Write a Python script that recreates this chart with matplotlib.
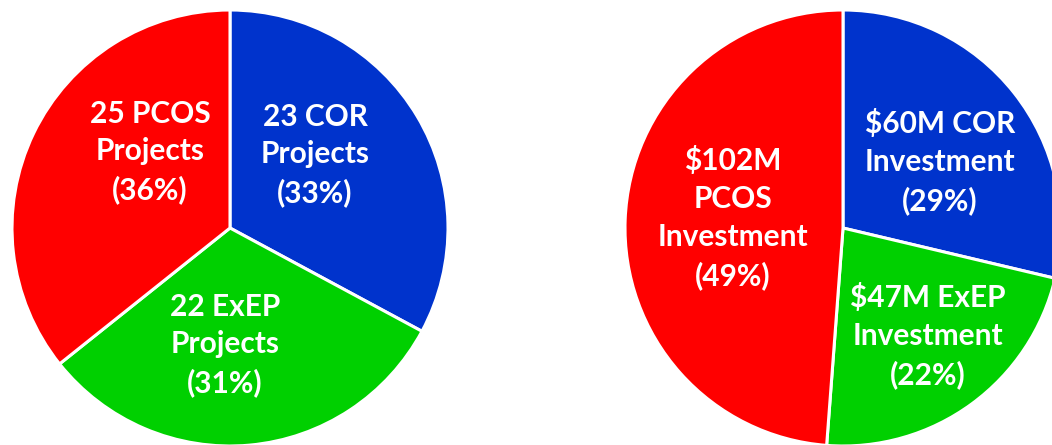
import matplotlib
matplotlib.use("Agg")
import matplotlib.pyplot as plt

# Data
categories = ["COR", "ExEP", "PCOS"]
project_counts = [23, 22, 25]
investments_musd = [60, 47, 102]
project_pcts = [33, 31, 36]
invest_pcts = [29, 22, 49]
colors = ["#0033CC", "#00D000", "#FF0000"]

W, H = 1052, 445
fig = plt.figure(figsize=(W / 100, H / 100), dpi=100)
ax = fig.add_axes([0, 0, 1, 1])

R = 218
left_c = (230, H - 228)
right_c = (843, H - 228)

wedge_kw = dict(edgecolor="white", linewidth=2.2)
ax.pie(project_counts, colors=colors, startangle=90, counterclock=False,
       radius=R, center=left_c, wedgeprops=wedge_kw)
ax.pie(investments_musd, colors=colors, startangle=90, counterclock=False,
       radius=R, center=right_c, wedgeprops=wedge_kw)

ax.set_xlim(0, W)
ax.set_ylim(0, H)
ax.set_aspect("equal")
ax.axis("off")

font = dict(color="white", fontsize=21.5, fontweight="bold", family="Lato",
            ha="center", va="center", linespacing=1.42)

left_labels = [
    f"{project_counts[0]} {categories[0]}\nProjects\n({project_pcts[0]}%)",
    f"{project_counts[1]} {categories[1]}\nProjects\n({project_pcts[1]}%)",
    f"{project_counts[2]} {categories[2]}\nProjects\n({project_pcts[2]}%)",
]
left_pos = [(315, 155), (225, 345), (150, 152)]
for t, (x, y) in zip(left_labels, left_pos):
    ax.text(x, H - y, t, **font)

right_labels = [
    f"${investments_musd[0]}M {categories[0]}\nInvestment\n({invest_pcts[0]}%)",
    f"${investments_musd[1]}M {categories[1]}\nInvestment\n({invest_pcts[1]}%)",
    f"${investments_musd[2]}M\n{categories[2]}\nInvestment\n({invest_pcts[2]}%)",
]
right_pos = [(940, 162), (928, 336), (733, 218)]
for t, (x, y) in zip(right_labels, right_pos):
    ax.text(x, H - y, t, **font)

fig.savefig("out.png", dpi=100, facecolor="white")
